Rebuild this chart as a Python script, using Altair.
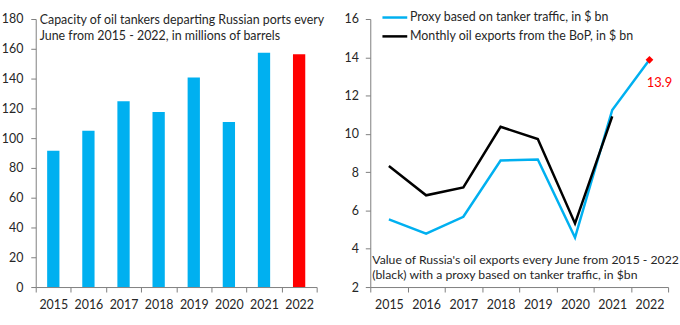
import altair as alt
import pandas as pd

years = ["2015", "2016", "2017", "2018", "2019", "2020", "2021", "2022"]
capacity = [91.5, 104.9, 124.7, 117.5, 140.7, 110.9, 157.3, 156.4]
proxy = [5.53, 4.79, 5.67, 8.61, 8.66, 4.58, 11.25, 13.87]
bop = [8.32, 6.79, 7.20, 10.37, 9.73, 5.32, 10.91, None]

S_PROXY = "Proxy based on tanker traffic, in $ bn"
S_BOP = "Monthly oil exports from the BoP, in $ bn"

BLUE = "#00B0F0"
RED = "#FF0000"
FONT = "Lato"
TXT = "#262626"
AX = "#7F7F7F"

left_df = pd.DataFrame({"year": years, "capacity": capacity,
                        "hl": ["latest" if y == "2022" else "past" for y in years]})

rows = []
for y, p, b in zip(years, proxy, bop):
    rows.append({"year": y, "series": S_PROXY, "value": p})
    if b is not None:
        rows.append({"year": y, "series": S_BOP, "value": b})
right_df = pd.DataFrame(rows)
last_df = pd.DataFrame({"year": [years[-1]], "value": [proxy[-1]],
                        "label": [f"{proxy[-1]:.1f}"]})

xaxis = alt.Axis(title=None, tickBand="extent", labelAngle=0, labelFont=FONT,
                 labelFontSize=12.5, labelColor=TXT, domainColor=AX, tickColor=AX,
                 tickSize=5, labelPadding=7, grid=False, labelOverlap=False)

xscale = alt.Scale(type="band", paddingInner=0, paddingOuter=0)


def yaxis(vals, pad):
    return alt.Axis(title=None, values=vals, labelFont=FONT, labelFontSize=12.5,
                    labelColor=TXT, domainColor=AX, tickColor=AX, tickSize=5,
                    labelPadding=pad, grid=False, labelOverlap=False, labelBound=False,
                    labelFlush=False)


W_L, W_R, H = 283, 300, 270

bars = alt.Chart(left_df).mark_bar(width=alt.RelativeBandSize(0.35)).encode(
    x=alt.X("year:O", scale=xscale, axis=xaxis, sort=years),
    y=alt.Y("capacity:Q", scale=alt.Scale(domain=[0, 180]),
            axis=yaxis(list(range(0, 181, 20)), 8)),
    color=alt.Color("hl:N", scale=alt.Scale(domain=["past", "latest"], range=[BLUE, RED]),
                    legend=None),
)

left_title = alt.Chart(pd.DataFrame({"t": [["Capacity of oil tankers departing Russian ports every",
                                           "June from 2015 - 2022, in millions of barrels"]]})).mark_text(
    align="left", baseline="middle", font=FONT, fontSize=12.5, color=TXT, lineHeight=16
).encode(x=alt.value(4), y=alt.value(1), text="t")

left = alt.layer(bars, left_title).properties(width=W_L, height=H)

yright = alt.Y("value:Q", scale=alt.Scale(domain=[2, 16]),
               axis=yaxis(list(range(2, 17, 2)), 7))
xright = alt.X("year:O", scale=xscale, axis=xaxis, sort=years, bandPosition=0.5)

lines = alt.Chart(right_df).mark_line(strokeWidth=2.5).encode(
    x=xright,
    y=yright,
    color=alt.Color("series:N", sort=[S_PROXY, S_BOP],
                    scale=alt.Scale(domain=[S_PROXY, S_BOP], range=[BLUE, "black"]),
                    legend=alt.Legend(title=None, orient="none", legendX=11, legendY=-9,
                                      symbolType="M-1,0L3,0", symbolSize=156,
                                      symbolStrokeWidth=2.5, labelFont=FONT,
                                      labelFontSize=12.5, labelColor=TXT, rowPadding=5,
                                      labelOffset=14, labelLimit=0)),
)

pt = alt.Chart(last_df).mark_point(shape="diamond", filled=True, color=RED, size=60,
                                   opacity=1).encode(x=xright, y=yright)
pt_label = alt.Chart(last_df).mark_text(color=RED, font=FONT, fontSize=13, dx=10, dy=23,
                                        align="center", baseline="middle").encode(
    x=xright, y=yright, text="label:N")

right_note = alt.Chart(pd.DataFrame({"t": [["Value of Russia's oil exports every June from 2015 - 2022",
                                           "(black) with a proxy based on tanker traffic, in $bn"]]})).mark_text(
    align="left", baseline="middle", font=FONT, fontSize=12.3, color=TXT, lineHeight=15
).encode(x=alt.value(2), y=alt.value(243), text="t")

right = alt.layer(lines, pt, pt_label, right_note).properties(width=W_R, height=H)

chart = alt.hconcat(left, right, spacing=54, bounds="flush").resolve_scale(
    color="independent"
).properties(
    padding={"left": 1, "top": 9, "right": 0, "bottom": 0}
).configure_view(stroke=None)

chart.save("out.html", embed_options={"renderer": "svg", "actions": False})
